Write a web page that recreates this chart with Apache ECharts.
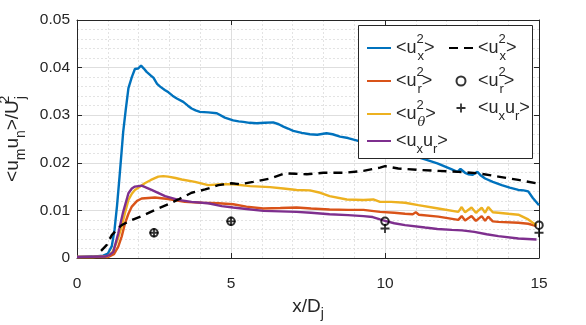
<!DOCTYPE html>
<html>
<head>
<meta charset="utf-8">
<script src="https://cdn.jsdelivr.net/npm/echarts/dist/echarts.min.js"></script>
<style>
  html, body { margin: 0; padding: 0; background: #fff; }
  #chart { width: 586px; height: 325px; }
</style>
</head>
<body>
<div id="chart"></div>
<script>
// LES curves, [x/Dj, value]
const uxx = [[0,0.0002],[0.5,0.0003],[0.85,0.0005],[1.0,0.0009],[1.13,0.0025],[1.22,0.006],[1.3,0.011],[1.38,0.017],[1.45,0.0225],[1.5,0.0265],[1.58,0.031],[1.67,0.0357],[1.78,0.038],[1.88,0.0397],[1.98,0.0398],[2.08,0.0404],[2.17,0.0398],[2.26,0.0391],[2.4,0.0383],[2.48,0.0379],[2.6,0.0366],[2.7,0.036],[2.85,0.0353],[2.97,0.0348],[3.1,0.0341],[3.24,0.0335],[3.45,0.0328],[3.6,0.032],[3.72,0.0314],[3.85,0.031],[3.99,0.0307],[4.26,0.0306],[4.54,0.0304],[4.8,0.0295],[5.07,0.0289],[5.25,0.0287],[5.4,0.0286],[5.6,0.0284],[5.83,0.0283],[6.1,0.0284],[6.37,0.0285],[6.55,0.0281],[6.7,0.0276],[6.85,0.0272],[7.02,0.0267],[7.3,0.0263],[7.56,0.026],[7.8,0.0259],[8.1,0.0262],[8.3,0.026],[8.54,0.0255],[8.8,0.0252],[9.13,0.0246],[9.5,0.0238],[10,0.0228],[10.5,0.022],[11,0.0213],[11.3,0.0207],[11.7,0.0199],[12.17,0.0186],[12.35,0.0181],[12.45,0.0187],[12.6,0.0179],[12.7,0.0176],[12.85,0.0175],[13.0,0.0181],[13.1,0.0174],[13.25,0.0167],[13.5,0.016],[13.79,0.0153],[14.05,0.0148],[14.33,0.0143],[14.5,0.0142],[14.65,0.014],[14.8,0.0126],[15,0.0111]];
const urr = [[0,0.0002],[1.0,0.0002],[1.2,0.0008],[1.34,0.0024],[1.45,0.0045],[1.56,0.0073],[1.67,0.0093],[1.78,0.0108],[1.95,0.012],[2.1,0.0125],[2.53,0.0127],[2.96,0.0124],[3.5,0.0118],[4.05,0.0116],[4.59,0.0115],[5.07,0.0113],[5.5,0.0108],[6.05,0.0104],[6.6,0.0105],[7.13,0.0106],[7.6,0.0104],[8.2,0.0102],[8.8,0.0101],[9.3,0.0101],[9.84,0.0097],[10.3,0.0095],[10.65,0.0093],[10.9,0.0092],[11.0,0.0096],[11.1,0.0091],[11.73,0.0087],[12.38,0.008],[12.49,0.0088],[12.6,0.0079],[12.81,0.0088],[12.95,0.0078],[13.14,0.0088],[13.25,0.0078],[13.35,0.0087],[13.5,0.0077],[13.68,0.0076],[14.33,0.0074],[14.65,0.0072],[14.92,0.0067]];
const utt = [[0,0.0002],[0.5,0.0002],[1.0,0.0004],[1.15,0.0012],[1.3,0.0035],[1.45,0.0066],[1.56,0.0095],[1.67,0.0122],[1.78,0.0135],[1.88,0.0143],[2.05,0.015],[2.2,0.0157],[2.4,0.0164],[2.64,0.0171],[2.8,0.0172],[2.96,0.0171],[3.2,0.0168],[3.4,0.0165],[3.83,0.016],[4.26,0.0153],[4.7,0.0155],[5.07,0.0155],[5.62,0.0151],[6.27,0.0149],[6.7,0.0146],[7.13,0.0143],[7.56,0.0142],[7.9,0.0137],[8.2,0.013],[8.76,0.0123],[9.3,0.0122],[9.62,0.0123],[9.84,0.0118],[10.2,0.0118],[10.65,0.0116],[11.08,0.0111],[11.73,0.0104],[12.38,0.0097],[12.49,0.0107],[12.6,0.0096],[12.81,0.0106],[12.95,0.0095],[13.14,0.0106],[13.25,0.0095],[13.35,0.0107],[13.5,0.0096],[13.68,0.0095],[14.0,0.0093],[14.33,0.0091],[14.65,0.0081],[14.8,0.0074],[14.92,0.0069]];
const uxr = [[0,0.0002],[0.9,0.0003],[1.05,0.0006],[1.18,0.0013],[1.34,0.0052],[1.5,0.0097],[1.67,0.0136],[1.78,0.0146],[1.88,0.015],[2.1,0.0152],[2.42,0.0143],[2.86,0.013],[3.29,0.0122],[3.72,0.0118],[4.26,0.0115],[4.7,0.0109],[5.07,0.0106],[5.5,0.0103],[6.05,0.0099],[6.6,0.0098],[7.13,0.0097],[7.6,0.0095],[8.2,0.0092],[8.8,0.009],[9.3,0.0088],[9.6,0.0086],[9.84,0.0081],[10,0.0078],[10.3,0.0073],[10.65,0.0069],[11.3,0.0064],[11.7,0.0061],[12.17,0.0059],[12.5,0.0058],[12.9,0.0055],[13.3,0.005],[13.68,0.0046],[14.33,0.0041],[14.92,0.0039]];
// experiment
const uxxExp = [[0.78,0.0015],[0.96,0.0027],[1.13,0.0048],[1.3,0.006],[1.45,0.0069],[1.72,0.0078],[2.1,0.0088],[2.53,0.0101],[2.96,0.0113],[3.29,0.0123],[3.72,0.0137],[4.16,0.0144],[4.59,0.0153],[5.02,0.0157],[5.29,0.0155],[5.72,0.016],[6.27,0.0167],[6.75,0.0178],[7.1,0.0177],[7.46,0.0176],[8.0,0.0179],[8.65,0.0179],[9.3,0.0183],[9.84,0.019],[10,0.0193],[10.43,0.0188],[11.08,0.0185],[11.73,0.0183],[12.38,0.0181],[13.03,0.0178],[13.68,0.0171],[14.33,0.0164],[15,0.0156]];
const urrExp = [[2.5,0.0053],[5,0.0077],[10,0.0077],[15,0.0069]];
const uxrExp = [[2.5,0.0053],[5,0.0077],[10,0.0062],[15,0.0053]];

const xTicks = [0, 5, 10, 15];
const yTicks = [0, 0.01, 0.02, 0.03, 0.04, 0.05];

const FONT = 'Liberation Sans, Arial, Helvetica, sans-serif';
const INK = '#262626';
const plusPath = 'path://M3.6,0H5.4V3.6H9V5.4H5.4V9H3.6V5.4H0V3.6H3.6Z';
const noDot = { color: 'rgba(0,0,0,0)', borderWidth: 0 };

// rich text pieces for the math labels
const rich = {
  t: { fontSize: 18, lineHeight: 30, fontFamily: FONT, color: INK },
  sp: { fontSize: 13, lineHeight: 16, verticalAlign: 'top', width: 1, fontFamily: FONT, color: INK },
  sb: { fontSize: 13, lineHeight: 16, verticalAlign: 'bottom', fontFamily: FONT, color: INK },
  sbi: { fontSize: 13, lineHeight: 16, verticalAlign: 'bottom', fontStyle: 'italic', fontFamily: 'DejaVu Serif, serif', color: INK }
};
const labels = {
  'LES uxx': '{t|<u}{sp|2}{sb|x}{t|>}',
  'LES urr': '{t|<u}{sp|2}{sb|r}{t|>}',
  'LES utt': '{t|<u}{sp|2}{sbi|θ}{t|>}',
  'LES uxr': '{t|<u}{sb|x}{t|u}{sb|r}{t|>}',
  'Exp uxx': '{t|<u}{sp|2}{sb|x}{t|>}',
  'Exp urr': '{t|<u}{sp|2}{sb|r}{t|>}',
  'Exp uxr': '{t|<u}{sb|x}{t|u}{sb|r}{t|>}'
};

const axisName = Object.assign({}, rich, {
  t: Object.assign({}, rich.t, { fontSize: 19 }),
  sp: Object.assign({}, rich.sp, { fontSize: 14 }),
  sb: Object.assign({}, rich.sb, { fontSize: 14 })
});

function lineSeries(name, data, color, dash) {
  return {
    name: name, type: 'line', data: data, symbol: 'none', showSymbol: false,
    lineStyle: { color: color, width: 2.4, type: dash || 'solid' },
    itemStyle: { color: color },
    emphasis: { disabled: true }, z: 2
  };
}

const chart = echarts.init(document.getElementById('chart'), null, { renderer: 'canvas' });

const baseX = {
  type: 'value', min: xTicks[0], max: xTicks[xTicks.length - 1], interval: 5,
  axisLine: { show: true, onZero: false, lineStyle: { color: INK, width: 1 } },
  axisTick: { show: true, inside: true, length: 5, lineStyle: { color: INK } }
};
const baseY = {
  type: 'value', min: yTicks[0], max: yTicks[yTicks.length - 1], interval: 0.01,
  axisLine: { show: true, onZero: false, lineStyle: { color: INK, width: 1 } },
  axisTick: { show: true, inside: true, length: 5, lineStyle: { color: INK } }
};

chart.setOption({
  animation: false,
  backgroundColor: '#fff',
  grid: { left: 77, right: 47, top: 20, bottom: 67, containLabel: false, outerBoundsMode: 'none' },
  xAxis: [
    Object.assign({}, baseX, {
      position: 'bottom',
      axisLabel: { show: true, margin: 18, fontSize: 15.5, fontFamily: FONT, color: INK },
      splitLine: { show: true, lineStyle: { color: '#dedede', width: 1 } },
      minorTick: { show: false, splitNumber: 5 },
      minorSplitLine: { show: true, lineStyle: { color: '#e3e3e3', width: 1, type: [2, 2] } },
      name: '{t|x/D}{sb|j}', nameLocation: 'middle', nameGap: 28,
      nameTextStyle: { rich: axisName }
    }),
    Object.assign({}, baseX, {
      position: 'top', axisLabel: { show: false }, splitLine: { show: false }
    })
  ],
  yAxis: [
    Object.assign({}, baseY, {
      position: 'left',
      axisLabel: { show: true, margin: 7, fontSize: 15.5, fontFamily: FONT, color: INK },
      splitLine: { show: true, lineStyle: { color: '#dedede', width: 1 } },
      minorTick: { show: false, splitNumber: 5 },
      minorSplitLine: { show: true, lineStyle: { color: '#e3e3e3', width: 1, type: [2, 2] } },
      name: '{t|<u}{sb|m}{t|u}{sb|n}{t|>/U}{sp|2}{sb|j}', nameLocation: 'middle', nameGap: 49, nameRotate: 90,
      nameTextStyle: { rich: axisName }
    }),
    Object.assign({}, baseY, {
      position: 'right', axisLabel: { show: false }, splitLine: { show: false }
    })
  ],
  graphic: [{
    type: 'rect', left: 358, top: 25, z: 10,
    shape: { width: 174, height: 133 },
    style: { fill: '#fff', stroke: INK, lineWidth: 1 }
  }],
  legend: [{
    data: ['LES uxx', 'LES urr', 'LES utt', 'LES uxr'],
    orient: 'vertical', left: 361, top: 28, z: 20,
    itemWidth: 24, itemHeight: 14, itemGap: 3,
    itemStyle: noDot,
    formatter: function (n) { return labels[n]; },
    textStyle: { rich: rich, fontFamily: FONT, color: INK },
    selectedMode: false
  }, {
    data: [{ name: 'Exp uxx', itemStyle: noDot }, 'Exp urr', 'Exp uxr'],
    orient: 'vertical', left: 443, top: 28, z: 20,
    itemWidth: 24, itemHeight: 9, itemGap: 3,
    formatter: function (n) { return labels[n]; },
    textStyle: { rich: rich, fontFamily: FONT, color: INK },
    selectedMode: false
  }],
  series: [
    lineSeries('LES uxx', uxx, '#0072BD'),
    lineSeries('LES urr', urr, '#D95319'),
    lineSeries('LES utt', utt, '#EDB120'),
    lineSeries('LES uxr', uxr, '#7E2F8E'),
    lineSeries('Exp uxx', uxxExp, '#000000', [9, 6]),
    {
      name: 'Exp urr', type: 'scatter', data: urrExp, symbol: 'circle', symbolSize: 7.5,
      itemStyle: { color: 'rgba(0,0,0,0)', borderColor: '#000', borderWidth: 2 }, z: 3
    },
    {
      name: 'Exp uxr', type: 'scatter', data: uxrExp, symbol: plusPath, symbolSize: 9,
      itemStyle: { color: '#000' }, z: 3
    }
  ]
});
</script>
</body>
</html>
